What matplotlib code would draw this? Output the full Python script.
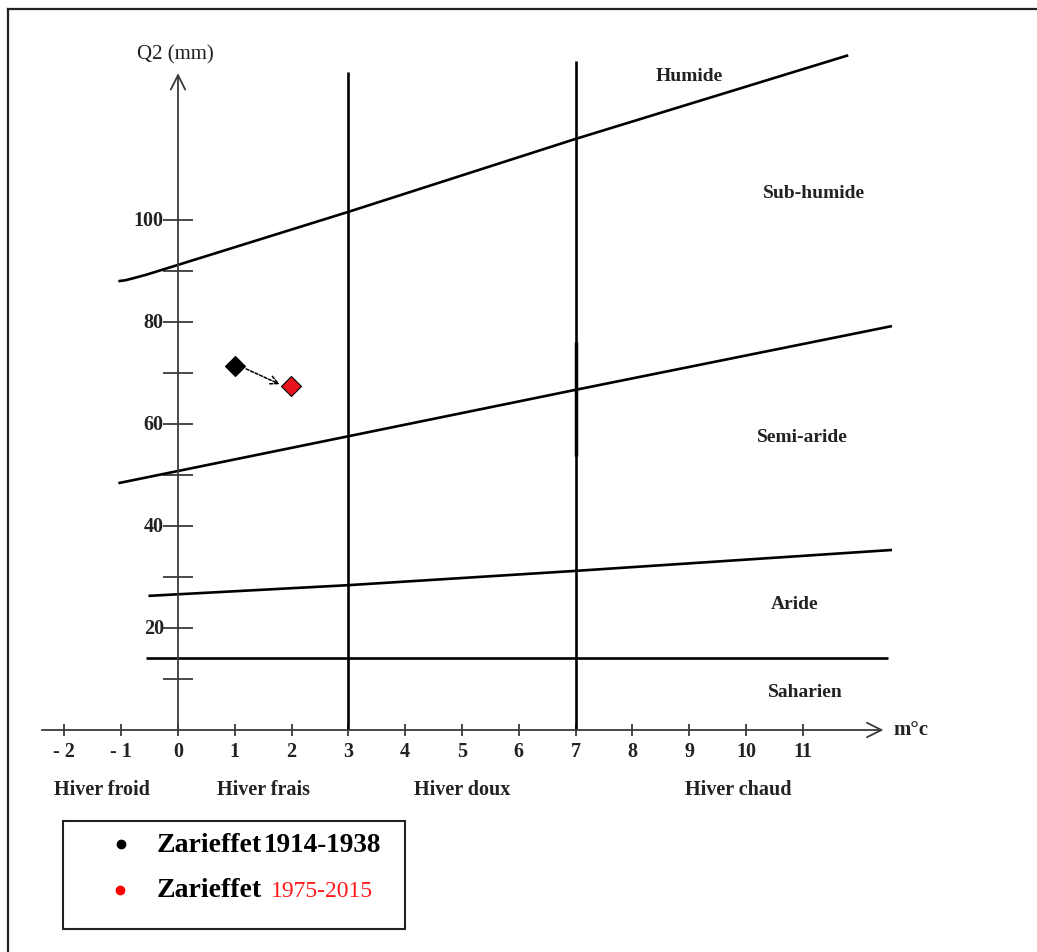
import numpy as np
import matplotlib.pyplot as plt
from matplotlib.lines import Line2D
from matplotlib.patches import Rectangle

plt.rcParams['font.family'] = ['Liberation Serif', 'DejaVu Serif']

# axis ticks
temp_ticks = [-2, -1, 0, 1, 2, 3, 4, 5, 6, 7, 8, 9, 10, 11]
temp_labels = ['- 2', '- 1', '0', '1', '2', '3', '4', '5', '6', '7', '8', '9', '10', '11']
q2_minor = [10, 30, 50, 70, 90]
q2_major = [20, 40, 60, 80, 100]

# bioclimatic boundaries (m in degC, Q2)
humide_m = [-1.05, -0.92, -0.78, -0.55, 0.0, 3.0, 7.0, 11.8]
humide_q = [88.0, 88.2, 88.6, 89.3, 91.2, 101.6, 115.9, 132.3]
subhum_m = [-1.05, 3.0, 7.0, 12.57]
subhum_q = [48.4, 57.6, 66.7, 79.2]
semiar_m = [-0.52, 3.0, 7.0, 12.57]
semiar_q = [26.3, 28.4, 31.2, 35.3]
aride_m = [-0.56, 12.5]
aride_q = [14.1, 14.1]
winter_m = [3, 7]
winter_top = [129.0, 131.2]

# stations
st_m = [1.0, 1.99]
st_q = [71.4, 67.5]
st_col = ['black', '#e8141b']

W, H = 1037, 953
fig = plt.figure(figsize=(W / 100, H / 100), dpi=100)
ax = fig.add_axes([0, 0, 1, 1])
# x: 56.8 px per degree, origin at px 178 ; y: 5.1 px per mm, origin at px 731
sx, x0 = 56.8, 178
sy, y0 = 5.1, 731
ax.set_xlim(-x0 / sx, (W - x0) / sx)
ax.set_ylim(-(H - y0) / sy, y0 / sy)
ax.axis('off')

axc = '#3a3a3a'
# axes with arrows
ax.annotate('', xy=(12.42, 0), xytext=(-2.4, 0),
            arrowprops=dict(arrowstyle='->', lw=1.3, color=axc, mutation_scale=26,
                            shrinkA=0, shrinkB=0))
ax.annotate('', xy=(0, 128.8), xytext=(0, 0),
            arrowprops=dict(arrowstyle='->', lw=1.3, color=axc, mutation_scale=26,
                            shrinkA=0, shrinkB=0))
ax.plot(temp_ticks, np.zeros(len(temp_ticks)), '|', color=axc, ms=8, mew=1.3)
ax.plot(np.zeros(len(q2_minor + q2_major)), q2_minor + q2_major, '_', color=axc, ms=21, mew=1.3)

for t, lab in zip(temp_ticks, temp_labels):
    ax.text(t, -4.2, lab, ha='center', va='center', fontsize=14.5, fontweight='bold', color='#222')
for q in q2_major:
    ax.text(-0.25, q, str(q), ha='right', va='center', fontsize=14.5, fontweight='bold', color='#222')
ax.text(-0.05, 132.5, 'Q2 (mm)', ha='center', va='center', fontsize=15, color='#222')
ax.text(12.6, 0.2, 'm°c', ha='left', va='center', fontsize=15, fontweight='bold', color='#222')

# boundaries
lw = 1.9
ax.plot(humide_m, humide_q, color='black', lw=lw, solid_capstyle='butt')
ax.plot(subhum_m, subhum_q, color='black', lw=lw, solid_capstyle='butt')
ax.plot(semiar_m, semiar_q, color='black', lw=lw, solid_capstyle='butt')
ax.plot(aride_m, aride_q, color='black', lw=lw, solid_capstyle='butt')
for m, top in zip(winter_m, winter_top):
    ax.plot([m, m], [0, top], color='black', lw=lw, solid_capstyle='butt')
ax.plot([7, 7], [53.7, 76], color='black', lw=2.5, solid_capstyle='butt')

# zone labels
zones = ['Humide', 'Sub-humide', 'Semi-aride', 'Aride', 'Saharien']
zone_m = [9.0, 11.2, 11.0, 10.86, 11.04]
zone_q = [128.4, 105.3, 57.6, 24.9, 7.6]
for z, m, q in zip(zones, zone_m, zone_q):
    ax.text(m, q, z, ha='center', va='center', fontsize=14, fontweight='bold', color='#222')

winters = ['Hiver froid', 'Hiver frais', 'Hiver doux', 'Hiver chaud']
winter_lab_m = [-1.34, 1.5, 5.0, 9.86]
for w, m in zip(winters, winter_lab_m):
    ax.text(m, -11.6, w, ha='center', va='center', fontsize=14.5, fontweight='bold', color='#222')

# stations and shift arrow
ax.annotate('', xy=(st_m[1] - 0.2, st_q[1] + 0.3), xytext=(st_m[0] + 0.2, st_q[0] - 0.6),
            arrowprops=dict(arrowstyle='->', lw=1.1, ls=(0, (2, 1.2)), color='black',
                            mutation_scale=15, shrinkA=0, shrinkB=0))
for m, q, c in zip(st_m, st_q, st_col):
    ax.plot(m, q, 'D', color=c, mec='black', mew=0.8, ms=10)

# frame (top and left)
fig.add_artist(Line2D([8 / W, 1], [1 - 10 / H, 1 - 10 / H], color='#222', lw=1.6))
fig.add_artist(Line2D([8 / W, 8 / W], [0, 1 - 10 / H], color='#222', lw=1.6))

# legend box
fig.add_artist(Rectangle((63 / W, 1 - 930 / H), 342 / W, 108 / H, fill=False,
                         ec='#222', lw=1.5, transform=fig.transFigure))
fig.add_artist(Line2D([121 / W], [1 - 845 / H], marker='o', ms=6, color='black', ls='none'))
fig.add_artist(Line2D([120 / W], [1 - 891 / H], marker='o', ms=6, color='#ff0000', ls='none'))
fig.text(157 / W, 1 - 845 / H, 'Zarieffet', ha='left', va='center', fontsize=20, fontweight='bold')
fig.text(264 / W, 1 - 845 / H, '1914-1938', ha='left', va='center', fontsize=19.5, fontweight='bold')
fig.text(157 / W, 1 - 891 / H, 'Zarieffet', ha='left', va='center', fontsize=20, fontweight='bold')
fig.text(271 / W, 1 - 892 / H, '1975-2015', ha='left', va='center', fontsize=17, color='#ff1a1a')

fig.savefig('out.png', dpi=100)
